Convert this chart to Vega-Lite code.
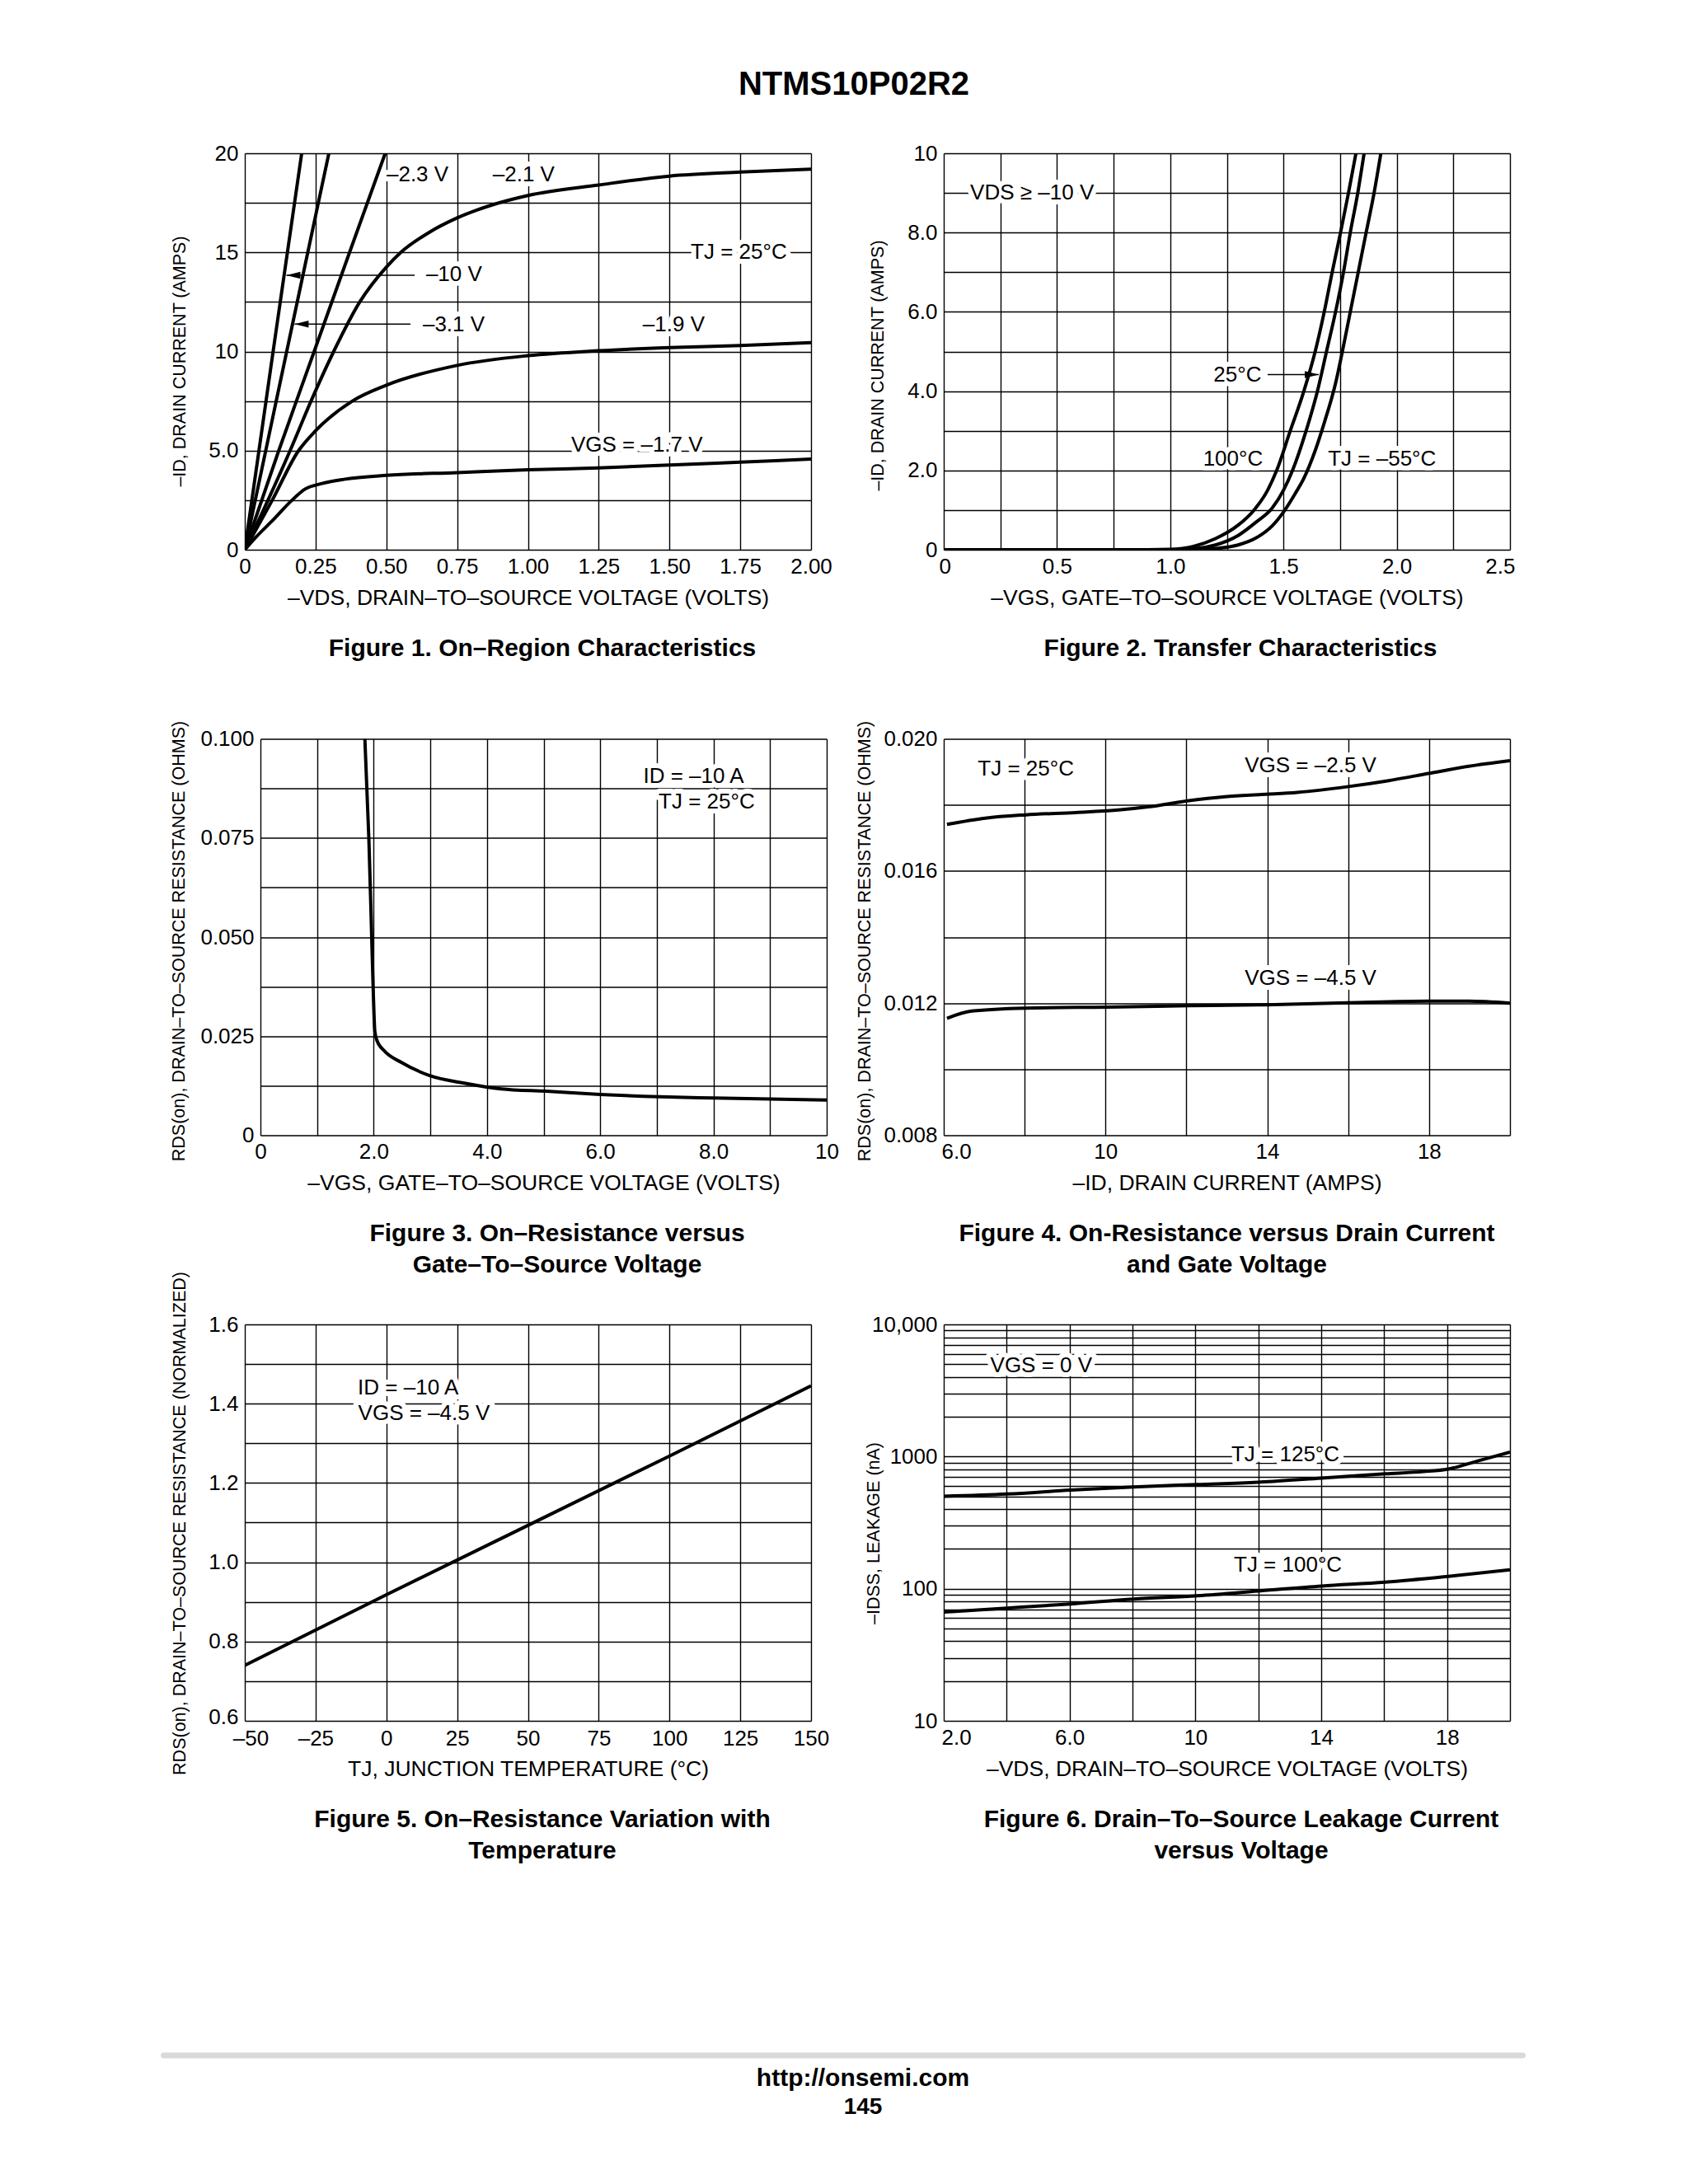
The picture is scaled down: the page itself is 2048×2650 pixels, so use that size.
{
  "$schema": "https://vega.github.io/schema/vega-lite/v6.json",
  "background": "white",
  "padding": {"left": 195, "top": 83, "right": 190, "bottom": 80},
  "title": {"text": "NTMS10P02R2", "fontSize": 40, "fontWeight": "bold", "anchor": "middle", "offset": 50, "dx": 13, "color": "black", "font": "Liberation Sans"},
  "datasets": {
    "f1": [
      {"s": "-10 V", "x": 0, "y": 0}, {"s": "-10 V", "x": 0.1, "y": 10}, {"s": "-10 V", "x": 0.201, "y": 20},
      {"s": "-3.1 V", "x": 0, "y": 0}, {"s": "-3.1 V", "x": 0.148, "y": 10}, {"s": "-3.1 V", "x": 0.297, "y": 20},
      {"s": "-2.3 V", "x": 0, "y": 0}, {"s": "-2.3 V", "x": 0.12, "y": 5}, {"s": "-2.3 V", "x": 0.245, "y": 10}, {"s": "-2.3 V", "x": 0.37, "y": 15}, {"s": "-2.3 V", "x": 0.496, "y": 20},
      {"s": "-2.1 V", "x": 0, "y": 0}, {"s": "-2.1 V", "x": 0.082, "y": 2.5}, {"s": "-2.1 V", "x": 0.16, "y": 5}, {"s": "-2.1 V", "x": 0.234, "y": 7.5}, {"s": "-2.1 V", "x": 0.314, "y": 10}, {"s": "-2.1 V", "x": 0.406, "y": 12.5}, {"s": "-2.1 V", "x": 0.5, "y": 14.26}, {"s": "-2.1 V", "x": 0.551, "y": 15}, {"s": "-2.1 V", "x": 0.65, "y": 16.0}, {"s": "-2.1 V", "x": 0.75, "y": 16.74}, {"s": "-2.1 V", "x": 0.875, "y": 17.4}, {"s": "-2.1 V", "x": 1.0, "y": 17.87}, {"s": "-2.1 V", "x": 1.25, "y": 18.4}, {"s": "-2.1 V", "x": 1.5, "y": 18.85}, {"s": "-2.1 V", "x": 1.75, "y": 19.05}, {"s": "-2.1 V", "x": 2.0, "y": 19.2},
      {"s": "-1.9 V", "x": 0, "y": 0}, {"s": "-1.9 V", "x": 0.097, "y": 2.5}, {"s": "-1.9 V", "x": 0.19, "y": 5}, {"s": "-1.9 V", "x": 0.25, "y": 6.0}, {"s": "-1.9 V", "x": 0.38, "y": 7.5}, {"s": "-1.9 V", "x": 0.5, "y": 8.3}, {"s": "-1.9 V", "x": 0.75, "y": 9.3}, {"s": "-1.9 V", "x": 1.0, "y": 9.79}, {"s": "-1.9 V", "x": 1.25, "y": 10.04}, {"s": "-1.9 V", "x": 1.5, "y": 10.2}, {"s": "-1.9 V", "x": 1.75, "y": 10.3}, {"s": "-1.9 V", "x": 2.0, "y": 10.45},
      {"s": "-1.7 V", "x": 0, "y": 0}, {"s": "-1.7 V", "x": 0.039, "y": 0.63}, {"s": "-1.7 V", "x": 0.097, "y": 1.46}, {"s": "-1.7 V", "x": 0.164, "y": 2.46}, {"s": "-1.7 V", "x": 0.213, "y": 3.06}, {"s": "-1.7 V", "x": 0.27, "y": 3.33}, {"s": "-1.7 V", "x": 0.35, "y": 3.55}, {"s": "-1.7 V", "x": 0.5, "y": 3.75}, {"s": "-1.7 V", "x": 0.75, "y": 3.89}, {"s": "-1.7 V", "x": 1.0, "y": 4.03}, {"s": "-1.7 V", "x": 1.25, "y": 4.13}, {"s": "-1.7 V", "x": 1.5, "y": 4.27}, {"s": "-1.7 V", "x": 1.75, "y": 4.42}, {"s": "-1.7 V", "x": 2.0, "y": 4.57}
    ],
    "f1l": [
      {"label": "–2.3 V", "x": 0.61, "y": 18.9},
      {"label": "–2.1 V", "x": 0.985, "y": 18.9},
      {"label": "TJ = 25°C", "x": 1.745, "y": 15.0},
      {"label": "–10 V", "x": 0.739, "y": 13.87},
      {"label": "–3.1 V", "x": 0.738, "y": 11.36},
      {"label": "–1.9 V", "x": 1.515, "y": 11.37},
      {"label": "VGS = –1.7 V", "x": 1.385, "y": 5.3}
    ],
    "f1a": [
      {"x": 0.147, "x2": 0.6, "y": 13.85},
      {"x": 0.176, "x2": 0.585, "y": 11.38}
    ],
    "f2": [
      {"s": "100", "x": 0, "y": 0}, {"s": "100", "x": 0.9, "y": 0}, {"s": "100", "x": 1.0, "y": 0.01}, {"s": "100", "x": 1.1, "y": 0.08}, {"s": "100", "x": 1.2, "y": 0.28}, {"s": "100", "x": 1.3, "y": 0.62}, {"s": "100", "x": 1.37, "y": 1.0}, {"s": "100", "x": 1.43, "y": 1.5}, {"s": "100", "x": 1.47, "y": 2.0}, {"s": "100", "x": 1.53, "y": 3.0}, {"s": "100", "x": 1.59, "y": 4.0}, {"s": "100", "x": 1.64, "y": 5.0}, {"s": "100", "x": 1.68, "y": 6.0}, {"s": "100", "x": 1.715, "y": 7.0}, {"s": "100", "x": 1.752, "y": 8.0}, {"s": "100", "x": 1.787, "y": 9.0}, {"s": "100", "x": 1.82, "y": 10},
      {"s": "25", "x": 0, "y": 0}, {"s": "25", "x": 1.0, "y": 0}, {"s": "25", "x": 1.1, "y": 0.02}, {"s": "25", "x": 1.2, "y": 0.12}, {"s": "25", "x": 1.3, "y": 0.36}, {"s": "25", "x": 1.38, "y": 0.7}, {"s": "25", "x": 1.45, "y": 1.05}, {"s": "25", "x": 1.5, "y": 1.5}, {"s": "25", "x": 1.54, "y": 2.0}, {"s": "25", "x": 1.6, "y": 3.0}, {"s": "25", "x": 1.65, "y": 4.0}, {"s": "25", "x": 1.69, "y": 5.0}, {"s": "25", "x": 1.73, "y": 6.0}, {"s": "25", "x": 1.765, "y": 7.0}, {"s": "25", "x": 1.795, "y": 8.0}, {"s": "25", "x": 1.828, "y": 9.0}, {"s": "25", "x": 1.856, "y": 10},
      {"s": "-55", "x": 0, "y": 0}, {"s": "-55", "x": 1.1, "y": 0}, {"s": "-55", "x": 1.2, "y": 0.03}, {"s": "-55", "x": 1.3, "y": 0.12}, {"s": "-55", "x": 1.38, "y": 0.3}, {"s": "-55", "x": 1.45, "y": 0.6}, {"s": "-55", "x": 1.5, "y": 0.95}, {"s": "-55", "x": 1.55, "y": 1.4}, {"s": "-55", "x": 1.59, "y": 1.8}, {"s": "-55", "x": 1.64, "y": 2.5}, {"s": "-55", "x": 1.68, "y": 3.2}, {"s": "-55", "x": 1.73, "y": 4.2}, {"s": "-55", "x": 1.76, "y": 5.0}, {"s": "-55", "x": 1.795, "y": 6.0}, {"s": "-55", "x": 1.83, "y": 7.0}, {"s": "-55", "x": 1.865, "y": 8.0}, {"s": "-55", "x": 1.9, "y": 9.0}, {"s": "-55", "x": 1.93, "y": 10}
    ],
    "f2l": [
      {"label": "VDS ≥ –10 V", "x": 0.39, "y": 9.0},
      {"label": "25°C", "x": 1.297, "y": 4.4},
      {"label": "100°C", "x": 1.277, "y": 2.28},
      {"label": "TJ = –55°C", "x": 1.935, "y": 2.28}
    ],
    "f2a": [
      {"x": 1.656, "x2": 1.43, "y": 4.42}
    ],
    "f3": [
      {"x": 1.844, "y": 0.1}, {"x": 1.915, "y": 0.0746}, {"x": 1.963, "y": 0.0508}, {"x": 1.995, "y": 0.0349}, {"x": 2.02, "y": 0.0262}, {"x": 2.06, "y": 0.0238}, {"x": 2.18, "y": 0.0214}, {"x": 2.5, "y": 0.0183}, {"x": 2.98, "y": 0.0151}, {"x": 3.62, "y": 0.0131}, {"x": 4.25, "y": 0.0117}, {"x": 5.05, "y": 0.0111}, {"x": 6.0, "y": 0.0103}, {"x": 7.05, "y": 0.0097}, {"x": 8.0, "y": 0.0094}, {"x": 10, "y": 0.0089}
    ],
    "f3l": [
      {"label": "ID = –10 A", "x": 7.65, "y": 0.0905},
      {"label": "TJ = 25°C", "x": 7.88, "y": 0.0841}
    ],
    "f4": [
      {"s": "-2.5", "x": 6.08, "y": 0.01741}, {"s": "-2.5", "x": 7.03, "y": 0.0176}, {"s": "-2.5", "x": 8.03, "y": 0.0177}, {"s": "-2.5", "x": 9.26, "y": 0.01777}, {"s": "-2.5", "x": 10.27, "y": 0.01784}, {"s": "-2.5", "x": 11.05, "y": 0.01794}, {"s": "-2.5", "x": 12.06, "y": 0.01813}, {"s": "-2.5", "x": 12.95, "y": 0.01825}, {"s": "-2.5", "x": 13.96, "y": 0.01832}, {"s": "-2.5", "x": 14.74, "y": 0.01838}, {"s": "-2.5", "x": 15.97, "y": 0.01855}, {"s": "-2.5", "x": 16.97, "y": 0.01873}, {"s": "-2.5", "x": 17.98, "y": 0.01895}, {"s": "-2.5", "x": 18.98, "y": 0.01917}, {"s": "-2.5", "x": 20, "y": 0.01934},
      {"s": "-4.5", "x": 6.08, "y": 0.01154}, {"s": "-4.5", "x": 6.69, "y": 0.01176}, {"s": "-4.5", "x": 8.03, "y": 0.01185}, {"s": "-4.5", "x": 10.04, "y": 0.01188}, {"s": "-4.5", "x": 12.06, "y": 0.01192}, {"s": "-4.5", "x": 13.96, "y": 0.01195}, {"s": "-4.5", "x": 15.97, "y": 0.01201}, {"s": "-4.5", "x": 17.98, "y": 0.01206}, {"s": "-4.5", "x": 18.98, "y": 0.01206}, {"s": "-4.5", "x": 20, "y": 0.012}
    ],
    "f4l": [
      {"label": "TJ = 25°C", "x": 8.03, "y": 0.0191},
      {"label": "VGS = –2.5 V", "x": 15.07, "y": 0.0192},
      {"label": "VGS = –4.5 V", "x": 15.07, "y": 0.01275}
    ],
    "f5": [
      {"x": -50, "y": 0.74}, {"x": 0, "y": 0.918}, {"x": 50, "y": 1.093}, {"x": 100, "y": 1.268}, {"x": 150, "y": 1.445}
    ],
    "f5l": [
      {"label": "ID = –10 A", "x": 7.7, "y": 1.44},
      {"label": "VGS = –4.5 V", "x": 13.3, "y": 1.375}
    ],
    "f6": [
      {"s": "125", "x": 2.0, "y": 500}, {"s": "125", "x": 4.01, "y": 520}, {"s": "125", "x": 6.03, "y": 557}, {"s": "125", "x": 8.04, "y": 589}, {"s": "125", "x": 10.06, "y": 614}, {"s": "125", "x": 12.07, "y": 641}, {"s": "125", "x": 14.01, "y": 687}, {"s": "125", "x": 16.03, "y": 740}, {"s": "125", "x": 17.25, "y": 769}, {"s": "125", "x": 18.04, "y": 805}, {"s": "125", "x": 18.98, "y": 927}, {"s": "125", "x": 20, "y": 1080},
      {"s": "100", "x": 2.0, "y": 66.5}, {"s": "100", "x": 4.01, "y": 71.3}, {"s": "100", "x": 6.03, "y": 76.7}, {"s": "100", "x": 8.04, "y": 83.5}, {"s": "100", "x": 10.06, "y": 88.4}, {"s": "100", "x": 12.07, "y": 96.3}, {"s": "100", "x": 14.01, "y": 104.8}, {"s": "100", "x": 16.03, "y": 112}, {"s": "100", "x": 18.04, "y": 124}, {"s": "100", "x": 20, "y": 139}
    ],
    "f6l": [
      {"label": "VGS = 0 V", "x": 5.1, "y": 4900},
      {"label": "TJ = 125°C", "x": 12.86, "y": 1040},
      {"label": "TJ = 100°C", "x": 12.94, "y": 151}
    ]
  },
  "vconcat": [
    {
      "columns": 2,
      "spacing": {"row": 229.5, "column": 142},
      "bounds": "flush",
      "align": "all",
      "concat": [
        {
          "width": 687, "height": 481,
          "title": {"text": "Figure 1. On–Region Characteristics", "orient": "bottom", "anchor": "middle", "frame": "group", "dx": 17.5, "offset": 33, "fontSize": 30, "fontWeight": "bold", "lineHeight": 38},
          "encoding": {
            "x": {"field": "x", "type": "quantitative", "scale": {"domain": [0, 2], "nice": false, "zero": false},
                  "axis": {"title": "–VDS, DRAIN–TO–SOURCE VOLTAGE (VOLTS)", "values": [0, 0.25, 0.5, 0.75, 1, 1.25, 1.5, 1.75, 2], "labelExpr": "datum.value == 0 ? '0' : format(datum.value, '.2f')"}},
            "y": {"field": "y", "type": "quantitative", "scale": {"domain": [0, 20], "nice": false, "zero": false},
                  "axis": {"title": "–ID, DRAIN CURRENT (AMPS)", "titleX": -68, "titleY": 252, "values": [0, 2.5, 5, 7.5, 10, 12.5, 15, 17.5, 20], "labelExpr": "datum.value == 0 ? '0' : datum.value == 5 ? '5.0' : (datum.value % 5 == 0 ? format(datum.value, 'd') : '')"}}
          },
          "layer": [
            {"data": {"name": "f1"}, "mark": {"type": "line", "color": "black", "strokeWidth": 4, "interpolate": "monotone", "clip": true, "strokeJoin": "round"}, "encoding": {"detail": {"field": "s"}}},
            {"data": {"values": [{}]}, "mark": {"type": "rect", "filled": false, "color": "black", "strokeWidth": 2.5}, "encoding": {"x": {"datum": 0}, "x2": {"datum": 2}, "y": {"datum": 0}, "y2": {"datum": 20}}},
            {"data": {"name": "f1l"}, "mark": {"type": "text", "fontSize": 26, "color": "white", "stroke": "white", "strokeWidth": 12, "strokeJoin": "round"}, "encoding": {"text": {"field": "label"}}},
            {"data": {"name": "f1a"}, "mark": {"type": "rule", "color": "black", "strokeWidth": 1.5}, "encoding": {"x2": {"field": "x2"}}},
            {"data": {"name": "f1a"}, "mark": {"type": "point", "shape": "M 0 0 L 2 -0.5 L 2 0.5 Z", "filled": true, "size": 289, "color": "black", "opacity": 1}},
            {"data": {"name": "f1l"}, "mark": {"type": "text", "fontSize": 26}, "encoding": {"text": {"field": "label"}}}
          ]
        },
        {
          "width": 687, "height": 481,
          "title": {"text": "Figure 2. Transfer Characteristics", "orient": "bottom", "anchor": "middle", "frame": "group", "dx": 16.5, "offset": 33, "fontSize": 30, "fontWeight": "bold", "lineHeight": 38},
          "encoding": {
            "x": {"field": "x", "type": "quantitative", "scale": {"domain": [0, 2.5], "nice": false, "zero": false},
                  "axis": {"title": "–VGS, GATE–TO–SOURCE VOLTAGE (VOLTS)", "labelFlush": true, "labelFlushOffset": 6, "values": [0, 0.25, 0.5, 0.75, 1, 1.25, 1.5, 1.75, 2, 2.25, 2.5], "labelExpr": "datum.value == 0 ? '0' : (round(datum.value * 4) % 2 == 0 ? format(datum.value, '.1f') : '')"}},
            "y": {"field": "y", "type": "quantitative", "scale": {"domain": [0, 10], "nice": false, "zero": false},
                  "axis": {"title": "–ID, DRAIN CURRENT (AMPS)", "titleX": -69, "titleY": 257, "values": [0, 1, 2, 3, 4, 5, 6, 7, 8, 9, 10], "labelExpr": "datum.value == 0 ? '0' : datum.value == 10 ? '10' : (datum.value % 2 == 0 ? format(datum.value, '.1f') : '')"}}
          },
          "layer": [
            {"data": {"name": "f2"}, "mark": {"type": "line", "color": "black", "strokeWidth": 4, "interpolate": "monotone", "clip": true, "strokeJoin": "round"}, "encoding": {"detail": {"field": "s"}}},
            {"data": {"values": [{}]}, "mark": {"type": "rect", "filled": false, "color": "black", "strokeWidth": 2.5}, "encoding": {"x": {"datum": 0}, "x2": {"datum": 2.5}, "y": {"datum": 0}, "y2": {"datum": 10}}},
            {"data": {"name": "f2l"}, "mark": {"type": "text", "fontSize": 26, "color": "white", "stroke": "white", "strokeWidth": 12, "strokeJoin": "round"}, "encoding": {"text": {"field": "label"}}},
            {"data": {"name": "f2a"}, "mark": {"type": "rule", "color": "black", "strokeWidth": 1.5}, "encoding": {"x2": {"field": "x2"}}},
            {"data": {"name": "f2a"}, "mark": {"type": "point", "shape": "M 0 0 L -2 -0.5 L -2 0.5 Z", "filled": true, "size": 289, "color": "black", "opacity": 1}},
            {"data": {"name": "f2l"}, "mark": {"type": "text", "fontSize": 26}, "encoding": {"text": {"field": "label"}}}
          ]
        },
        {
          "width": 706, "height": 481,
          "title": {"text": ["Figure 3. On–Resistance versus", "Gate–To–Source Voltage"], "orient": "bottom", "anchor": "middle", "frame": "group", "dx": 26, "offset": 33, "fontSize": 30, "fontWeight": "bold", "lineHeight": 38},
          "encoding": {
            "x": {"field": "x", "type": "quantitative", "scale": {"domain": [0, 10], "range": [19, 706], "nice": false, "zero": false},
                  "axis": {"title": "–VGS, GATE–TO–SOURCE VOLTAGE (VOLTS)", "values": [0, 1, 2, 3, 4, 5, 6, 7, 8, 9, 10], "labelExpr": "datum.value == 0 ? '0' : datum.value == 10 ? '10' : (datum.value % 2 == 0 ? format(datum.value, '.1f') : '')"}},
            "y": {"field": "y", "type": "quantitative", "scale": {"domain": [0, 0.1], "nice": false, "zero": false},
                  "axis": {"title": "RDS(on), DRAIN–TO–SOURCE RESISTANCE (OHMS)", "offset": -19, "titleX": -87.5, "titleY": 245, "values": [0, 0.0125, 0.025, 0.0375, 0.05, 0.0625, 0.075, 0.0875, 0.1], "labelExpr": "datum.value == 0 ? '0' : (round(datum.value * 80) % 2 == 0 ? format(datum.value, '.3f') : '')"}}
          },
          "layer": [
            {"data": {"name": "f3"}, "mark": {"type": "line", "color": "black", "strokeWidth": 4, "interpolate": "monotone", "clip": true, "strokeJoin": "round"}, "encoding": {}},
            {"data": {"values": [{}]}, "mark": {"type": "rect", "filled": false, "color": "black", "strokeWidth": 2.5}, "encoding": {"x": {"datum": 0}, "x2": {"datum": 10}, "y": {"datum": 0}, "y2": {"datum": 0.1}}},
            {"data": {"name": "f3l"}, "mark": {"type": "text", "fontSize": 26, "color": "white", "stroke": "white", "strokeWidth": 12, "strokeJoin": "round"}, "encoding": {"text": {"field": "label"}}},
            {"data": {"name": "f3l"}, "mark": {"type": "text", "fontSize": 26}, "encoding": {"text": {"field": "label"}}}
          ]
        },
        {
          "width": 687, "height": 481,
          "title": {"text": ["Figure 4. On-Resistance versus Drain Current", "and Gate Voltage"], "orient": "bottom", "anchor": "middle", "frame": "group", "dx": 0, "offset": 33, "fontSize": 30, "fontWeight": "bold", "lineHeight": 38},
          "encoding": {
            "x": {"field": "x", "type": "quantitative", "scale": {"domain": [6, 20], "nice": false, "zero": false},
                  "axis": {"title": "–ID, DRAIN CURRENT (AMPS)", "labelFlush": true, "labelFlushOffset": 3, "values": [6, 8, 10, 12, 14, 16, 18, 20], "labelExpr": "(datum.value - 6) % 4 == 0 ? (datum.value < 10 ? format(datum.value, '.1f') : format(datum.value, 'd')) : ''"}},
            "y": {"field": "y", "type": "quantitative", "scale": {"domain": [0.008, 0.02], "nice": false, "zero": false},
                  "axis": {"title": "RDS(on), DRAIN–TO–SOURCE RESISTANCE (OHMS)", "titleX": -84.5, "titleY": 245, "values": [0.008, 0.01, 0.012, 0.014, 0.016, 0.018, 0.02], "labelExpr": "round(datum.value * 1000) % 4 == 0 ? format(datum.value, '.3f') : ''"}}
          },
          "layer": [
            {"data": {"name": "f4"}, "mark": {"type": "line", "color": "black", "strokeWidth": 4, "interpolate": "monotone", "clip": true, "strokeJoin": "round"}, "encoding": {"detail": {"field": "s"}}},
            {"data": {"values": [{}]}, "mark": {"type": "rect", "filled": false, "color": "black", "strokeWidth": 2.5}, "encoding": {"x": {"datum": 6}, "x2": {"datum": 20}, "y": {"datum": 0.008}, "y2": {"datum": 0.02}}},
            {"data": {"name": "f4l"}, "mark": {"type": "text", "fontSize": 26, "color": "white", "stroke": "white", "strokeWidth": 12, "strokeJoin": "round"}, "encoding": {"text": {"field": "label"}}},
            {"data": {"name": "f4l"}, "mark": {"type": "text", "fontSize": 26}, "encoding": {"text": {"field": "label"}}}
          ]
        },
        {
          "width": 687, "height": 481,
          "title": {"text": ["Figure 5. On–Resistance Variation with", "Temperature"], "orient": "bottom", "anchor": "middle", "frame": "group", "dx": 17.5, "offset": 33, "fontSize": 30, "fontWeight": "bold", "lineHeight": 38},
          "encoding": {
            "x": {"field": "x", "type": "quantitative", "scale": {"domain": [-50, 150], "nice": false, "zero": false},
                  "axis": {"title": "TJ, JUNCTION TEMPERATURE (°C)", "labelPadding": 8, "titlePadding": 11, "labelOffset": {"condition": {"test": "datum.value == -50", "value": 7}, "value": 0}, "values": [-50, -25, 0, 25, 50, 75, 100, 125, 150], "labelExpr": "datum.value < 0 ? '–' + abs(datum.value) : '' + datum.value"}},
            "y": {"field": "y", "type": "quantitative", "scale": {"domain": [0.6, 1.6], "nice": false, "zero": false},
                  "axis": {"title": "RDS(on), DRAIN–TO–SOURCE RESISTANCE (NORMALIZED)", "titleX": -68, "titleY": 241, "labelOffset": {"condition": {"test": "datum.value == 0.6", "value": -5}, "value": 0}, "values": [0.6, 0.7, 0.8, 0.9, 1.0, 1.1, 1.2, 1.3, 1.4, 1.5, 1.6], "labelExpr": "round(datum.value * 10) % 2 == 0 ? format(datum.value, '.1f') : ''"}}
          },
          "layer": [
            {"data": {"name": "f5"}, "mark": {"type": "line", "color": "black", "strokeWidth": 4, "clip": true, "strokeJoin": "round"}, "encoding": {}},
            {"data": {"values": [{}]}, "mark": {"type": "rect", "filled": false, "color": "black", "strokeWidth": 2.5}, "encoding": {"x": {"datum": -50}, "x2": {"datum": 150}, "y": {"datum": 0.6}, "y2": {"datum": 1.6}}},
            {"data": {"name": "f5l"}, "mark": {"type": "text", "fontSize": 26, "color": "white", "stroke": "white", "strokeWidth": 12, "strokeJoin": "round"}, "encoding": {"text": {"field": "label"}}},
            {"data": {"name": "f5l"}, "mark": {"type": "text", "fontSize": 26}, "encoding": {"text": {"field": "label"}}}
          ]
        },
        {
          "width": 687, "height": 481,
          "title": {"text": ["Figure 6. Drain–To–Source Leakage Current", "versus Voltage"], "orient": "bottom", "anchor": "middle", "frame": "group", "dx": 17.5, "offset": 33, "fontSize": 30, "fontWeight": "bold", "lineHeight": 38},
          "encoding": {
            "x": {"field": "x", "type": "quantitative", "scale": {"domain": [2, 20], "nice": false, "zero": false},
                  "axis": {"title": "–VDS, DRAIN–TO–SOURCE VOLTAGE (VOLTS)", "labelFlush": true, "labelFlushOffset": 3, "values": [2, 4, 6, 8, 10, 12, 14, 16, 18, 20], "labelExpr": "(datum.value - 2) % 4 == 0 ? (datum.value < 10 ? format(datum.value, '.1f') : format(datum.value, 'd')) : ''"}},
            "y": {"field": "y", "type": "quantitative", "scale": {"type": "log", "domain": [10, 10000], "nice": false},
                  "axis": {"title": "–IDSS, LEAKAGE (nA)", "titleX": -74, "titleY": 253, "values": [10, 20, 30, 40, 50, 60, 70, 80, 90, 100, 200, 300, 400, 500, 600, 700, 800, 900, 1000, 2000, 3000, 4000, 5000, 6000, 7000, 8000, 9000, 10000], "labelExpr": "datum.value == 10000 ? '10,000' : ((datum.value == 10 || datum.value == 100 || datum.value == 1000) ? format(datum.value, 'd') : '')"}}
          },
          "layer": [
            {"data": {"name": "f6"}, "mark": {"type": "line", "color": "black", "strokeWidth": 4, "interpolate": "monotone", "clip": true, "strokeJoin": "round"}, "encoding": {"detail": {"field": "s"}}},
            {"data": {"values": [{}]}, "mark": {"type": "rect", "filled": false, "color": "black", "strokeWidth": 2.5}, "encoding": {"x": {"datum": 2}, "x2": {"datum": 20}, "y": {"datum": 10}, "y2": {"datum": 10000}}},
            {"data": {"name": "f6l"}, "mark": {"type": "text", "fontSize": 26, "color": "white", "stroke": "white", "strokeWidth": 12, "strokeJoin": "round"}, "encoding": {"text": {"field": "label"}}},
            {"data": {"name": "f6l"}, "mark": {"type": "text", "fontSize": 26}, "encoding": {"text": {"field": "label"}}}
          ]
        }
      ]
    },
    {
      "width": 1500, "height": 8,
      "data": {"values": [{}]},
      "mark": {"type": "rule", "color": "#d9d9d9", "strokeWidth": 7, "strokeCap": "round"},
      "encoding": {
        "x": {"datum": 0, "type": "quantitative", "scale": {"domain": [0, 1], "range": [-98.5, 1550.5]}, "axis": null},
        "x2": {"datum": 1},
        "y": {"datum": 0.5, "type": "quantitative", "scale": {"domain": [0, 1]}, "axis": null}
      },
      "title": {"text": "http://onsemi.com", "subtitle": "145", "orient": "bottom", "anchor": "middle", "fontSize": 30, "fontWeight": "bold", "subtitleFontSize": 28, "subtitleFontWeight": "bold", "offset": 9, "subtitlePadding": 6}
    }
  ],
  "spacing": 229,
  "bounds": "full",
  "config": {
    "font": "Liberation Sans",
    "view": {"stroke": null},
    "axis": {
      "grid": true, "gridColor": "black", "gridWidth": 1.4, "gridOpacity": 1,
      "domain": false, "ticks": false, "tickSize": 0,
      "labelFont": "Liberation Sans", "labelFontSize": 26, "labelColor": "black",
      "labelOverlap": false, "labelFlush": false, "labelBound": false,
      "titleFont": "Liberation Sans", "titleFontWeight": "normal", "titleColor": "black"
    },
    "axisX": {"labelPadding": 7, "titleFontSize": 26.5, "titlePadding": 12},
    "axisY": {"labelPadding": 8, "titleFontSize": 21.5},
    "title": {"font": "Liberation Sans", "color": "black", "subtitleColor": "black", "subtitleFont": "Liberation Sans"},
    "text": {"font": "Liberation Sans", "fontSize": 26, "color": "black"}
  }
}
